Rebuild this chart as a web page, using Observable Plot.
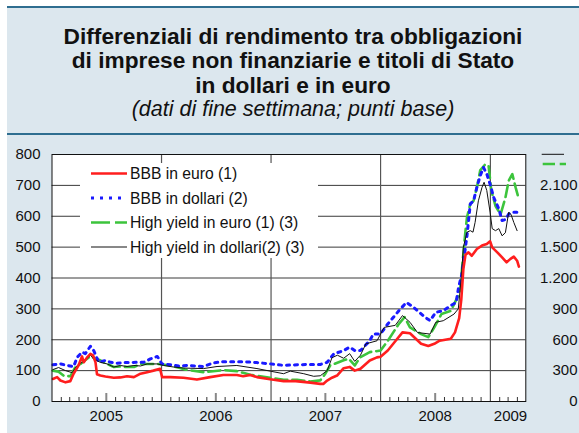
<!DOCTYPE html>
<html>
<head>
<meta charset="utf-8">
<script src="https://cdn.jsdelivr.net/npm/d3@7"></script>
<script src="https://cdn.jsdelivr.net/npm/@observablehq/plot@0.6"></script>
<style>
  html, body { margin: 0; padding: 0; background: #fff; }
  #wrap { position: relative; width: 579px; height: 433px; overflow: hidden; background: #fff;
          font-family: "Liberation Sans", Arial, Helvetica, sans-serif; }
  #panel { position: absolute; left: 7px; top: 8px; width: 572px; height: 425px; background: #dce7ee; }
  .rule { position: absolute; left: 7px; width: 572px; height: 2px; background: #2f6e90; }
  #title { position: absolute; left: 7px; width: 572px; top: 23.5px; text-align: center; color: #111; }
  #title .t { font-weight: bold; font-size: 22.7px; line-height: 24.5px; }
  #title .s { font-style: italic; font-size: 21.5px; line-height: 24px; }
  #chart { position: absolute; left: 0; top: 138px; }
  #legend { position: absolute; left: 80px; top: 163px; }
  #rlegend { position: absolute; left: 538px; top: 148px; }
</style>
</head>
<body>
<div id="wrap">
  <div id="panel"></div>
  <div class="rule" style="top:6px"></div>
  <div class="rule" style="top:133px"></div>
  <div id="title">
    <div class="t">Differenziali di rendimento tra obbligazioni</div>
    <div class="t">di imprese non finanziarie e titoli di Stato</div>
    <div class="t">in dollari e in euro</div>
    <div class="s">(dati di fine settimana; punti base)</div>
  </div>
  <div id="chart"></div>
  <svg id="legend" width="238" height="95"></svg>
  <svg id="rlegend" width="34" height="24"></svg>
</div>
<script>
// ---- data (weekly end-of-week spreads, basis points) ----
// BBB in euro (1) — left axis
const bbbEuro = [["2005-01-04",73],["2005-01-18",79],["2005-01-29",68],["2005-02-15",62],["2005-03-03",66],["2005-03-14",90],["2005-03-30",116],["2005-04-11",146],["2005-04-17",127],["2005-04-28",143],["2005-05-09",154],["2005-05-18",149],["2005-05-26",127],["2005-05-31",88],["2005-06-11",84],["2005-06-28",81],["2005-07-26",77],["2005-08-17",78],["2005-09-08",82],["2005-10-01",79],["2005-10-23",90],["2005-11-14",95],["2005-12-05",100],["2005-12-27",106],["2006-01-03",79],["2006-01-30",79],["2006-03-15",77],["2006-04-29",71],["2006-06-12",79],["2006-07-26",86],["2006-09-09",86],["2006-09-30",82],["2006-10-24",86],["2006-11-15",79],["2006-12-29",72],["2007-02-12",66],["2007-03-24",66],["2007-05-12",61],["2007-06-14",57],["2007-06-24",57],["2007-07-07",68],["2007-07-23",77],["2007-08-09",84],["2007-08-31",108],["2007-09-20",112],["2007-10-07",100],["2007-10-26",106],["2007-11-26",133],["2007-12-20",143],["2008-01-01",145],["2008-01-25",165],["2008-02-19",195],["2008-03-14",224],["2008-04-08",221],["2008-05-15",187],["2008-06-08",180],["2008-06-28",187],["2008-07-16",197],["2008-08-22",203],["2008-09-05",224],["2008-09-19",270],["2008-09-26",330],["2008-10-03",430],["2008-10-10",475],["2008-10-20",483],["2008-10-31",472],["2008-11-17",494],["2008-12-04",505],["2008-12-20",510],["2008-12-31",519],["2009-01-07",499],["2009-01-24",483],["2009-02-09",467],["2009-02-24",451],["2009-03-09",462],["2009-03-20",469],["2009-03-31",456],["2009-04-06",437]];
// BBB in dollari (2) — left axis
const bbbDollari = [["2005-01-04",119],["2005-01-29",122],["2005-02-20",117],["2005-03-14",113],["2005-03-26",143],["2005-04-11",160],["2005-04-22",155],["2005-05-09",179],["2005-05-20",165],["2005-06-06",127],["2005-06-28",133],["2005-07-15",127],["2005-08-06",124],["2005-08-28",126],["2005-09-20",126],["2005-10-12",127],["2005-11-03",127],["2005-11-25",138],["2005-12-18",146],["2006-01-02",122],["2006-01-30",119],["2006-03-04",114],["2006-03-27",117],["2006-05-21",113],["2006-06-22",125],["2006-07-26",129],["2006-09-30",129],["2006-11-15",126],["2006-12-29",122],["2007-02-12",117],["2007-03-29",119],["2007-05-12",120],["2007-06-14",120],["2007-07-07",127],["2007-07-29",154],["2007-08-31",165],["2007-09-20",176],["2007-10-07",165],["2007-10-26",165],["2007-11-26",197],["2007-12-08",219],["2008-01-01",219],["2008-01-25",251],["2008-03-02",294],["2008-03-27",321],["2008-04-20",305],["2008-05-28",273],["2008-06-14",262],["2008-07-03",289],["2008-07-28",294],["2008-08-22",311],["2008-09-09",321],["2008-09-17",370],["2008-09-28",413],["2008-10-15",537],["2008-10-26",640],["2008-11-06",650],["2008-11-17",694],["2008-11-28",731],["2008-12-09",758],["2008-12-20",737],["2008-12-31",704],["2009-01-12",661],["2009-01-29",624],["2009-02-09",586],["2009-02-20",589],["2009-03-03",607],["2009-03-15",613],["2009-03-31",613]];
// High yield in euro (1)(3) — right axis
const hyEuro = [["2005-01-04",300],["2005-01-23",290],["2005-02-09",250],["2005-03-03",245],["2005-03-20",335],["2005-04-06",365],["2005-04-28",415],["2005-05-09",440],["2005-05-26",415],["2005-06-11",400],["2005-07-04",365],["2005-07-26",335],["2005-08-17",340],["2005-09-08",335],["2005-10-01",335],["2005-10-23",365],["2005-11-25",365],["2005-12-21",365],["2006-01-30",350],["2006-03-04",325],["2006-03-20",310],["2006-05-21",285],["2006-07-26",305],["2006-09-09",295],["2006-10-24",260],["2006-12-29",230],["2007-02-12",210],["2007-03-29",210],["2007-05-12",195],["2007-06-14",205],["2007-07-01",270],["2007-07-17",350],["2007-08-31",400],["2007-09-17",415],["2007-10-07",350],["2007-10-25",430],["2007-11-26",480],["2008-01-01",495],["2008-01-25",590],["2008-03-02",755],["2008-03-21",820],["2008-04-08",720],["2008-05-15",655],["2008-06-08",625],["2008-06-28",720],["2008-07-22",850],["2008-08-22",880],["2008-09-16",1030],["2008-09-22",1080],["2008-10-09",1630],["2008-10-15",1790],["2008-10-26",1920],["2008-11-06",1950],["2008-11-17",2080],["2008-11-28",2245],["2008-12-15",2305],["2008-12-26",2290],["2009-01-04",2050],["2009-01-18",1900],["2009-02-04",1820],["2009-02-20",1980],["2009-03-03",2145],["2009-03-15",2210],["2009-03-26",2080],["2009-04-04",1985]];
// High yield in dollari (2)(3) — right axis
const hyDollari = [["2005-01-04",310],["2005-01-23",330],["2005-02-15",300],["2005-03-09",280],["2005-03-26",350],["2005-04-11",380],["2005-04-28",415],["2005-05-09",450],["2005-05-20",415],["2005-06-11",380],["2005-07-04",365],["2005-07-26",335],["2005-08-17",350],["2005-09-08",340],["2005-10-01",350],["2005-10-23",345],["2005-11-14",365],["2005-12-18",365],["2006-01-08",350],["2006-02-10",335],["2006-03-15",325],["2006-05-21",320],["2006-07-05",340],["2006-09-09",350],["2006-11-15",320],["2006-12-29",295],["2007-02-12",270],["2007-03-06",295],["2007-04-20",270],["2007-05-23",245],["2007-06-14",250],["2007-07-07",300],["2007-07-23",425],["2007-08-10",450],["2007-08-31",420],["2007-09-20",465],["2007-10-07",390],["2007-10-26",450],["2007-11-13",560],["2007-12-20",590],["2008-01-13",720],["2008-02-19",740],["2008-03-14",835],["2008-04-08",770],["2008-05-03",670],["2008-06-14",655],["2008-07-03",770],["2008-07-28",785],["2008-09-02",850],["2008-09-16",900],["2008-09-26",1200],["2008-10-03",1500],["2008-10-15",1645],["2008-10-26",1660],["2008-11-04",1645],["2008-11-11",1740],["2008-11-22",1950],["2008-12-04",2080],["2008-12-11",2130],["2008-12-20",2050],["2008-12-31",1840],["2009-01-07",1680],["2009-01-18",1660],["2009-01-29",1680],["2009-02-09",1610],["2009-02-20",1640],["2009-03-03",1840],["2009-03-11",1815],["2009-03-20",1740],["2009-03-31",1660]];

const seriesNames = ["BBB in euro (1)", "BBB in dollari (2)", "High yield in euro (1) (3)", "High yield in dollari(2) (3)"];
const leftTicks = [0, 100, 200, 300, 400, 500, 600, 700, 800];
const rightTicks = [0, 300, 600, 900, 1200, 1500, 1800, 2100];
const yearLabels = ["2005", "2006", "2007", "2008", "2009"];
const xStart = "2005-01-01", xEnd = "2009-04-29";
const rightRatio = 3; // right axis = 3 x left axis

// ---- build ----
const P = d => new Date(d + "T00:00:00Z");
const rows = arr => arr.map(([d, v]) => ({date: P(d), value: v}));
const fmtIt = d3.formatLocale({decimal: ",", thousands: ".", grouping: [3], currency: ["", "€"]}).format(",");

const yearLabelDates = yearLabels.map(y => y === "2009" ? P("2009-03-09") : P(y + "-07-01"));
const yearBounds = [P("2006-01-01"), P("2007-01-01"), P("2008-01-01"), P("2009-01-01")];
const monthTicks = d3.utcMonth.range(P(xStart), P(xEnd)).filter(d => d.getUTCMonth() !== 0 && d.getUTCMonth() !== 6);
const midYear = d3.utcMonth.range(P(xStart), P(xEnd)).filter(d => d.getUTCMonth() === 6);

const colors = {red: "#ff1e1e", blue: "#1a1aff", green: "#3cc43c", black: "#111"};

const plot = Plot.plot({
  width: 579,
  height: 295,
  marginTop: 16,
  marginBottom: 32,
  marginLeft: 51.5,
  marginRight: 53.7,
  style: {background: "transparent", fontFamily: "'Liberation Sans', Arial, Helvetica, sans-serif", fontSize: "15px", color: "#111"},
  x: {type: "utc", domain: [P(xStart), P(xEnd)]},
  y: {domain: [0, 800]},
  marks: [
    Plot.frame({fill: "white", stroke: null}),
    Plot.ruleY(leftTicks.filter(d => d > 0 && d < 800), {stroke: "#3a3a3a", strokeWidth: 1}),
    Plot.ruleX(yearBounds, {stroke: "#555", strokeWidth: 1.2}),
    Plot.ruleX(monthTicks, {stroke: "#333", strokeWidth: 1, insetTop: 243}),
    Plot.ruleX(midYear, {stroke: "#888", strokeWidth: 2, insetTop: 239}),
    Plot.line(rows(hyEuro), {x: "date", y: d => d.value / rightRatio, stroke: colors.green, strokeWidth: 2.6, strokeDasharray: "12,5"}),
    Plot.line(rows(bbbDollari), {x: "date", y: "value", stroke: colors.blue, strokeWidth: 3, strokeDasharray: "3,5"}),
    Plot.line(rows(hyDollari), {x: "date", y: d => d.value / rightRatio, stroke: colors.black, strokeWidth: 1}),
    Plot.line(rows(bbbEuro), {x: "date", y: "value", stroke: colors.red, strokeWidth: 2.6}),
    Plot.frame({stroke: "#111", strokeWidth: 1}),
    Plot.axisY({anchor: "left", ticks: leftTicks, tickSize: 0, tickPadding: 11.5, label: null, tickFormat: d => String(d)}),
    Plot.axisY({anchor: "right", ticks: rightTicks.map(d => d / rightRatio), tickSize: 0, tickPadding: 51.7, textAnchor: "end", label: null, tickFormat: d => fmtIt(Math.round(d * rightRatio))}),
    Plot.axisX({anchor: "bottom", ticks: yearLabelDates, tickSize: 0, tickPadding: 9, label: null, tickFormat: d3.utcFormat("%Y")})
  ]
});
document.getElementById("chart").appendChild(plot);

// ---- legend (white box inside plot area) ----
const lg = d3.select("#legend");
lg.append("rect").attr("width", 238).attr("height", 95).attr("fill", "#fff");
const styles = [
  {stroke: colors.red, w: 2.6, dash: null},
  {stroke: colors.blue, w: 3, dash: "3,6"},
  {stroke: colors.green, w: 2.6, dash: "19,5"},
  {stroke: colors.black, w: 1, dash: null}
];
seriesNames.forEach((name, i) => {
  const y = 10.5 + i * 24.5;
  const s = styles[i];
  lg.append("line").attr("x1", 11).attr("x2", 47).attr("y1", y).attr("y2", y)
    .attr("stroke", s.stroke).attr("stroke-width", s.w).attr("stroke-dasharray", s.dash);
  lg.append("text").attr("x", 50).attr("y", y).attr("dy", "0.36em")
    .attr("font-size", "15.7px").attr("fill", "#111")
    .attr("font-family", "'Liberation Sans', Arial, Helvetica, sans-serif").text(name);
});

// ---- right-axis series key ----
const rl = d3.select("#rlegend");
rl.append("line").attr("x1", 3.7).attr("x2", 26).attr("y1", 6.3).attr("y2", 6.3).attr("stroke", colors.black).attr("stroke-width", 1);
rl.append("line").attr("x1", 4.7).attr("x2", 28).attr("y1", 16).attr("y2", 16).attr("stroke", colors.green).attr("stroke-width", 2.6).attr("stroke-dasharray", "12.3,4.7");
</script>
</body>
</html>
